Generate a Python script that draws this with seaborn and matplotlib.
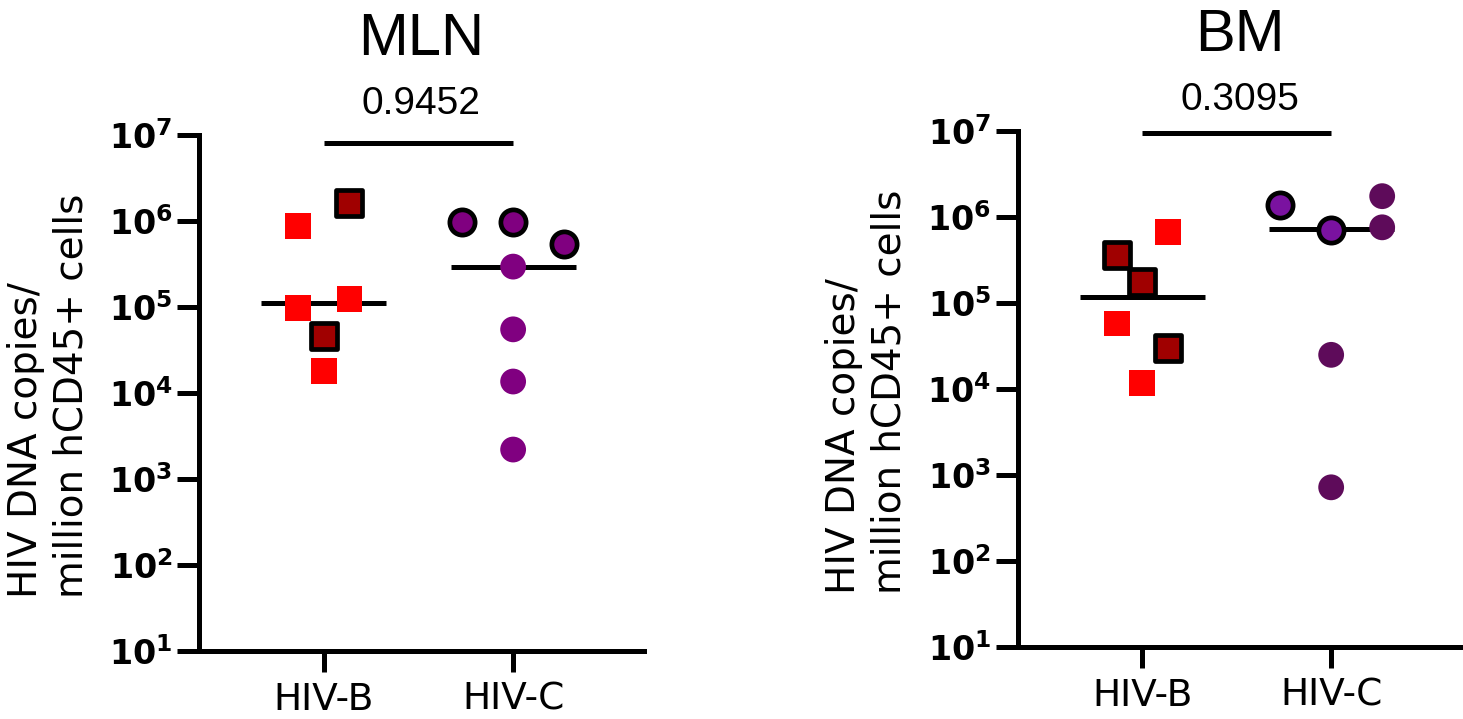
import numpy as np
import pandas as pd
import seaborn as sns
import matplotlib.pyplot as plt

# values (HIV DNA copies / million hCD45+ cells)
groups = ['HIV-B', 'HIV-C']

mln_b = [8.8e5, 1.6e6, 9.7e4, 1.23e5, 4.6e4, 1.8e4]
mln_b_outlined = [False, True, False, False, True, False]
mln_b_jitter = [-1, 1, -1, 1, 0, 0]
mln_c = [9.8e5, 9.8e5, 5.4e5, 2.95e5, 5.5e4, 1.36e4, 2.2e3]
mln_c_outlined = [True, True, True, False, False, False, False]
mln_c_jitter = [-2, 0, 2, 0, 0, 0, 0]

bm_b = [6.7e5, 3.6e5, 1.77e5, 5.8e4, 2.97e4, 1.18e4]
bm_b_outlined = [False, True, True, False, True, False]
bm_b_jitter = [1, -1, 0, -1, 1, 0]
bm_c = [1.38e6, 7.06e5, 1.75e6, 7.6e5, 2.5e4, 7.2e2]
bm_c_outlined = [True, True, False, False, False, False]
bm_c_jitter = [-2, 0, 2, 2, 0, 0]

p_values = ['0.9452', '0.3095']
titles = ['MLN', 'BM']
ytick_exp = [1, 2, 3, 4, 5, 6, 7]

sns.set_style('ticks')
plt.rcParams['font.family'] = ['Liberation Sans', 'DejaVu Sans']
plt.rcParams['mathtext.fontset'] = 'dejavusans'
for key in ['axes.edgecolor', 'xtick.color', 'ytick.color',
            'text.color', 'axes.labelcolor']:
    plt.rcParams[key] = 'black'


def make_df(vals, outlined, jitter, group):
    df = pd.DataFrame({'value': vals, 'outlined': outlined, 'jitter': jitter})
    df['group'] = group
    df['pos'] = groups.index(group) + 0.135 * df['jitter']
    return df


panels = [
    (make_df(mln_b, mln_b_outlined, mln_b_jitter, 'HIV-B'),
     make_df(mln_c, mln_c_outlined, mln_c_jitter, 'HIV-C'),
     {'HIV-B': ('#ff0000', '#a00000'), 'HIV-C': ('#800080', '#800080')}),
    (make_df(bm_b, bm_b_outlined, bm_b_jitter, 'HIV-B'),
     make_df(bm_c, bm_c_outlined, bm_c_jitter, 'HIV-C'),
     {'HIV-B': ('#ff0000', '#a00000'), 'HIV-C': ('#5e0b5a', '#7a12a0')}),
]

fig = plt.figure(figsize=(14.63, 7.19), dpi=100)
ax_left = fig.add_axes([0.136, 0.0946, 0.304, 0.7176])
ax_right = fig.add_axes([0.6955, 0.1001, 0.3035, 0.7176])

bracket_y = [8.0e6, 9.5e6]

for i, ax in enumerate([ax_left, ax_right]):
    df_b, df_c, colors = panels[i]
    data = pd.concat([df_b, df_c], ignore_index=True)

    # median lines (under the points)
    for g, sub in data.groupby('group'):
        k = groups.index(g)
        ax.hlines(np.median(sub['value']), k - 0.33, k + 0.33,
                  color='black', lw=3.6, zorder=2)

    for g in groups:
        sub = data[data['group'] == g]
        marker = 's' if g == 'HIV-B' else 'o'
        fill_col, out_col = colors[g]
        sns.scatterplot(data=sub[~sub['outlined']], x='pos', y='value',
                        marker=marker, s=345, color=fill_col,
                        edgecolor='none', linewidth=0, legend=False,
                        ax=ax, zorder=3)
        sns.scatterplot(data=sub[sub['outlined']], x='pos', y='value',
                        marker=marker, s=330, color=out_col,
                        edgecolor='black', linewidth=3.4, legend=False,
                        ax=ax, zorder=4)

    ax.set_yscale('log')
    ax.set_ylim(10, 1e7)
    ax.set_xlim(-0.66, 1.69)
    ax.minorticks_off()
    ax.set_yticks([10.0 ** e for e in ytick_exp],
                  labels=[r'$\mathbf{10^{%d}}$' % e for e in ytick_exp])
    ax.set_xticks([0, 1], labels=groups)
    ax.tick_params(axis='y', labelsize=24, width=3.6, length=16, pad=3)
    ax.tick_params(axis='x', labelsize=27, width=3.6, length=15, pad=7)
    for lab in ax.get_xticklabels():
        lab.set_family('DejaVu Sans')
    for s in ['top', 'right']:
        ax.spines[s].set_visible(False)
    for s in ['left', 'bottom']:
        ax.spines[s].set_linewidth(3.6)
    ax.set_xlabel('')
    ax.set_ylabel('HIV DNA copies/\nmillion hCD45+ cells', fontsize=28,
                  family='DejaVu Sans', linespacing=1.25,
                  multialignment='left')
    ax.yaxis.set_label_coords(-0.245, 0.495)

    # significance bracket and p-value
    ax.plot([0, 1], [bracket_y[i]] * 2, color='black', lw=3.6,
            clip_on=False, solid_capstyle='butt')
    ax.text(0.5, 1.041, p_values[i], transform=ax.transAxes, ha='center',
            va='baseline', fontsize=28)
    ax.set_title(titles[i], fontsize=43, y=1.155, pad=0, va='baseline')

fig.savefig('out.png', dpi=100)
